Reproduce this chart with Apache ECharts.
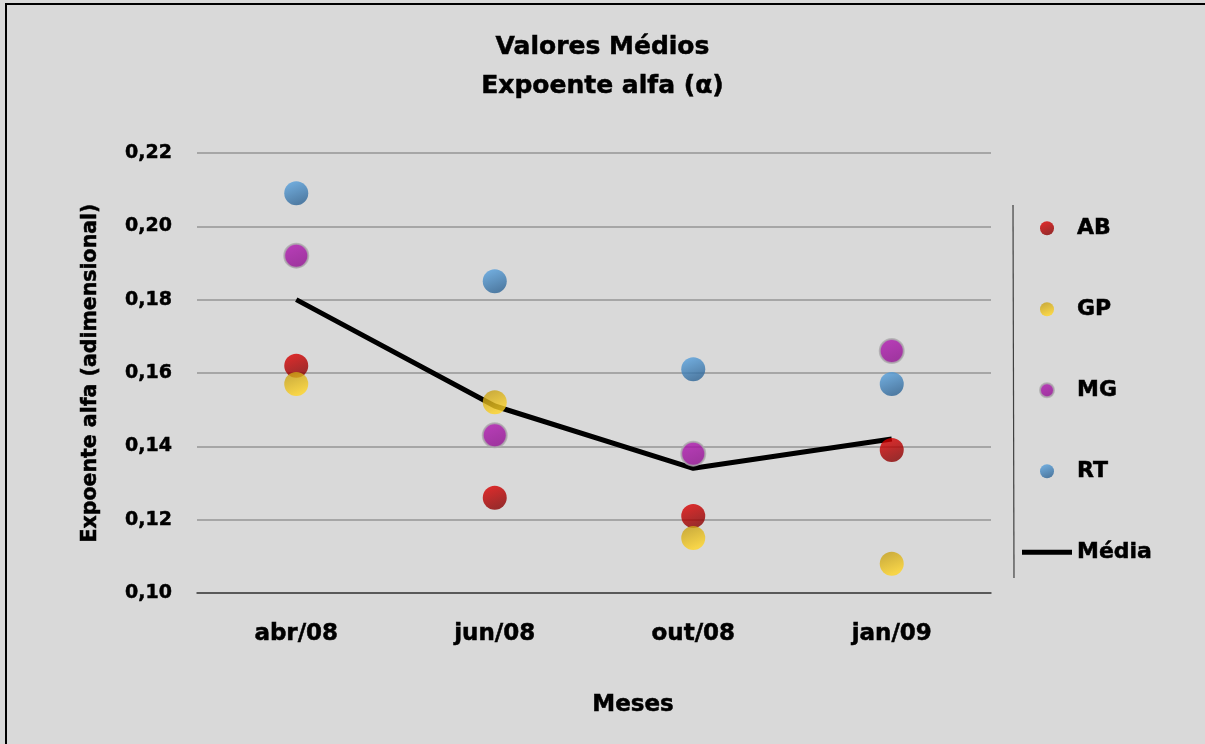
<!DOCTYPE html>
<html>
<head>
<meta charset="utf-8">
<script src="https://cdn.jsdelivr.net/npm/echarts@6/dist/echarts.min.js"></script>
<style>
  html, body { margin: 0; padding: 0; background: #d9d9d9; }
  #chart { width: 1205px; height: 744px; }
  #frame { position: absolute; left: 5px; top: 3px; width: 1300px; height: 800px;
           border-left: 2px solid #000; border-top: 2px solid #000; pointer-events: none; }
</style>
</head>
<body>
<div id="chart"></div>
<div id="frame"></div>
<script>
// Monthly campaigns
const months = ['abr/08', 'jun/08', 'out/08', 'jan/09'];

// Mean alpha exponent per site
const AB = [0.162, 0.126, 0.121, 0.139];
const GP = [0.157, 0.152, 0.115, 0.108];
const MG = [0.192, 0.143, 0.138, 0.166];
const RT = [0.209, 0.185, 0.161, 0.157];
const media = [0.180, 0.151, 0.134, 0.142];

const yTicks = [0.10, 0.12, 0.14, 0.16, 0.18, 0.20, 0.22];

const FONT = '"DejaVu Sans", Verdana, sans-serif';

// heavy bold text used throughout
function txt(size, extra) {
  return Object.assign({
    fontFamily: FONT, fontWeight: 'bold', fontSize: size, color: '#000',
    textBorderColor: '#000', textBorderWidth: 0.5
  }, extra || {});
}

function grad(top, bottom) {
  return new echarts.graphic.LinearGradient(0, 0, 0.4, 1, [
    { offset: 0, color: top },
    { offset: 1, color: bottom }
  ]);
}

const styles = {
  AB: { color: grad('#e60000', '#8c0000') },
  GP: { color: grad('#c09a14', '#ffd424') },
  MG: { color: grad('#b418b4', '#900c90'), borderColor: '#ababab', borderWidth: 2 },
  RT: { color: grad('#5ca8e6', '#2e6698') }
};

function scatter(name, data) {
  return {
    name: name,
    type: 'scatter',
    data: data,
    symbol: 'circle',
    symbolSize: 24,
    z: 5,
    itemStyle: styles[name]
  };
}

const chart = echarts.init(document.getElementById('chart'), null, { renderer: 'canvas' });

chart.setOption({
  backgroundColor: '#d9d9d9',
  animation: false,
  textStyle: { fontFamily: FONT },
  title: {
    text: 'Valores Médios\nExpoente alfa (α)',
    left: 'center',
    top: 23,
    textStyle: txt(25, { lineHeight: 39 })
  },
  grid: { left: 197, right: 214, top: 153, bottom: 151, containLabel: false },
  legend: {
    orient: 'vertical',
    left: 1022,
    top: 217,
    padding: 0,
    itemWidth: 50,
    itemHeight: 14,
    itemGap: 58.5,
    textStyle: txt(22),
    data: [
      { name: 'AB', icon: 'circle' },
      { name: 'GP', icon: 'circle' },
      { name: 'MG', icon: 'circle' },
      { name: 'RT', icon: 'circle' },
      { name: 'Média', icon: 'path://M0,0 L50,0 L50,5 L0,5 Z' }
    ]
  },
  graphic: [
    { type: 'line', shape: { x1: 1013, y1: 205, x2: 1014, y2: 578 }, style: { stroke: '#404040', lineWidth: 1.2 } }
  ],
  xAxis: {
    type: 'category',
    data: months,
    boundaryGap: true,
    axisLine: { lineStyle: { color: '#404040', width: 1.5 } },
    axisTick: { show: false },
    axisLabel: txt(23, { margin: 30 }),
    name: 'Meses',
    nameLocation: 'middle',
    nameGap: 101,
    nameTextStyle: txt(23, { padding: [0, 0, 0, 78] })
  },
  yAxis: {
    type: 'value',
    min: yTicks[0],
    max: yTicks[yTicks.length - 1],
    interval: 0.02,
    axisLine: { show: false },
    axisTick: { show: false },
    splitLine: { lineStyle: { color: '#a6a6a6', width: 2 } },
    axisLabel: Object.assign(txt(19, { margin: 25 }), {
      formatter: v => v.toFixed(2).replace('.', ',')
    }),
    name: 'Expoente alfa (adimensional)',
    nameLocation: 'middle',
    nameGap: 96,
    nameRotate: 90,
    nameTextStyle: txt(20.5)
  },
  series: [
    scatter('AB', AB),
    scatter('GP', GP),
    scatter('MG', MG),
    scatter('RT', RT),
    {
      name: 'Média',
      type: 'line',
      data: media,
      symbol: 'none',
      z: 2,
      lineStyle: { color: '#000', width: 5 },
      itemStyle: { color: '#000' }
    }
  ]
});
</script>
</body>
</html>
